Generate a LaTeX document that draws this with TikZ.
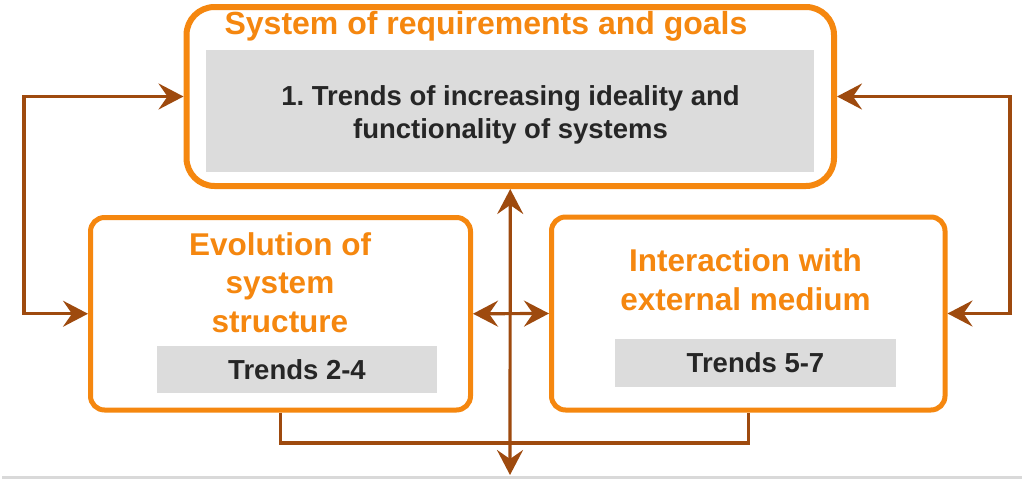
\documentclass[tikz,border=0pt]{standalone}
\usepackage{fontspec}
\setmainfont{Liberation Sans}
\usetikzlibrary{arrows.meta}
\definecolor{orng}{HTML}{F5870F}
\definecolor{brwn}{HTML}{9E4A0E}
\definecolor{gbox}{HTML}{DCDCDC}
\definecolor{dtxt}{HTML}{262626}
\definecolor{gline}{HTML}{D9D9D9}
\tikzset{
  bigbox/.style={draw=orng, line width=6pt, rounded corners=28pt, fill=white},
  smallbox/.style={draw=orng, line width=5pt, rounded corners=14pt, fill=white},
  graybox/.style={fill=gbox, inner sep=0pt, text=dtxt, align=center,
    font=\bfseries\fontsize{27.5}{33}\selectfont},
  dtext/.style={inner sep=0pt, text=dtxt, align=center,
    font=\bfseries\fontsize{27.5}{33}\selectfont},
  otitle/.style={text=orng, inner sep=0pt, align=center,
    font=\bfseries\fontsize{31.5}{38.5}\selectfont},
  conn/.style={draw=brwn, line width=3.2pt, >={Stealth[length=25pt, width=26pt, inset=9pt]}},
}
\begin{document}
\frenchspacing
\begin{tikzpicture}[x=1pt,y=-1pt]
\useasboundingbox (0,0) rectangle (1022,479);
\fill[gline] (2,476) rectangle (1022,479);
% boxes
\node[bigbox, minimum width=647.5pt, minimum height=179pt] (top) at (510.25,96.5) {};
\node[smallbox, minimum width=380pt, minimum height=192.5pt] (left) at (280.5,313.75) {};
\node[smallbox, minimum width=393.5pt, minimum height=193pt] (right) at (748.25,313.5) {};
% gray boxes
\node[graybox, minimum width=608pt, minimum height=122pt] (g1) at (510,111) {};
\node[dtext, anchor=base] (t0) at (510.5,138)
  {1. Trends of increasing ideality and\\functionality of systems};
\node[graybox, minimum width=280pt, minimum height=47pt] (g2) at (297,369.5) {Trends 2-4};
\node[graybox, minimum width=281pt, minimum height=48pt] (g3) at (755.5,363) {Trends 5-7};
% titles
\node[otitle, anchor=base, font=\bfseries\fontsize{32}{38.5}\selectfont] (t1) at (486,34.5) {System of requirements and goals};
\node[otitle, anchor=base] (t2) at (280,332) {Evolution of\\system\\structure};
\node[otitle, anchor=base] (t3) at (745.5,310) {Interaction with\\external medium};
% coordinates
\coordinate (lk) at (24,0);
\coordinate (rk) at (1010,0);
\coordinate (bot) at (510,475);
\coordinate (jn) at (0,443);
% connectors
\draw[conn, <->] (top.west) -- (top.west -| lk) |- (left.west);
\draw[conn, <->] (top.east) -- (top.east -| rk) |- (right.east);
\draw[conn, <->] (left.east) -- (right.west);
\draw[conn, <->] (top.south) -- (bot);
\draw[conn] (left.south) -- (left.south |- jn) -- (right.south |- jn) -- (right.south);
\end{tikzpicture}
\end{document}
